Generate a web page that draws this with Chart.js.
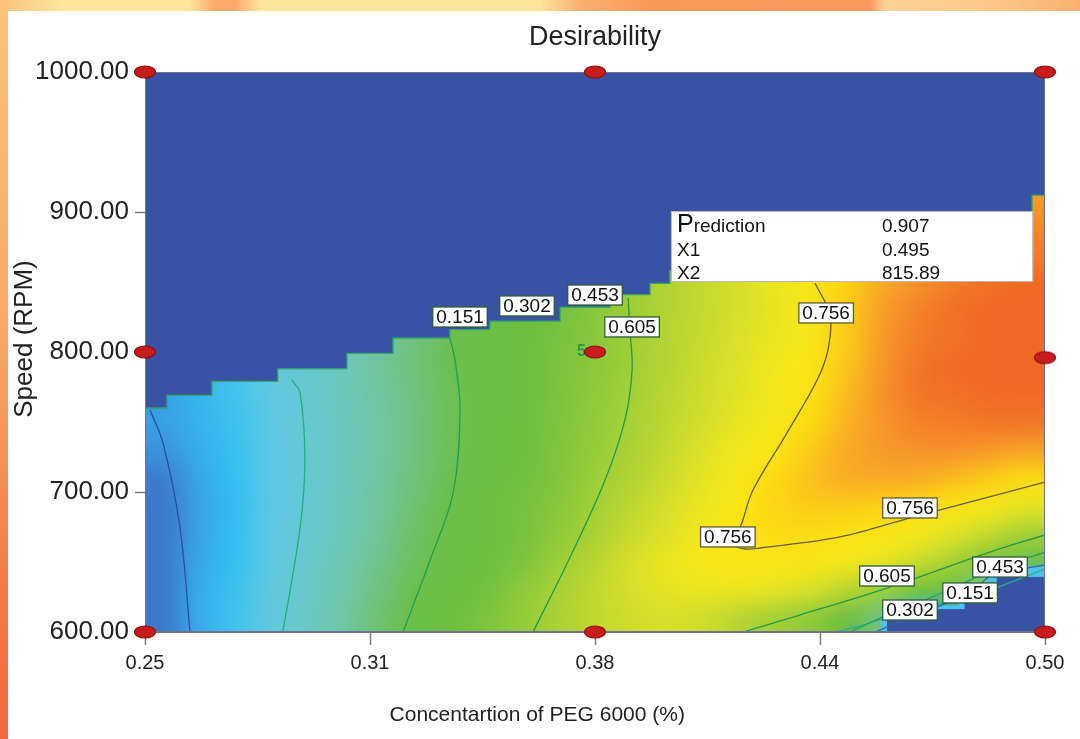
<!DOCTYPE html>
<html><head><meta charset="utf-8">
<script src="https://cdn.jsdelivr.net/npm/chart.js@4.4.1/dist/chart.umd.min.js"></script>
<style>
html,body{margin:0;padding:0;width:1080px;height:739px;overflow:hidden;background:#fff;}
#bgTop{position:absolute;left:0;top:0;width:1080px;height:11px;
 background:linear-gradient(to right,#f9c27c 0px,#fde39c 60px,#fde39c 190px,#fba868 215px,#fba868 235px,#fde49c 260px,#fde49c 540px,#f9b070 580px,#fa9858 650px,#fa9a5a 870px,#fdd294 885px,#fdc688 1000px,#fbb072 1080px);}
#bgLeft{position:absolute;left:0;top:0;width:8px;height:739px;background:linear-gradient(to bottom,#fbc27c 0%,#f8a864 45%,#f2804a 75%,#f0683e 100%);}
#wrap{position:absolute;left:0;top:0;width:1080px;height:739px;}
</style></head>
<body>
<div id="bgTop"></div><div id="bgLeft"></div>
<div id="wrap"><canvas id="c"></canvas></div>
<script>
// ---------- data ----------
const xTickValues = [0.25, 0.3125, 0.375, 0.4375, 0.5];
const xTickLabels = ['0.25', '0.31', '0.38', '0.44', '0.50'];
const yTickValues = [600, 700, 800, 900, 1000];
const yTickLabels = ['600.00', '700.00', '800.00', '900.00', '1000.00'];

// heat-map cell centres (X1 = PEG conc., X2 = speed)
const cellX = [0.255,0.265,0.275,0.285,0.295,0.305,0.315,0.325,0.335,0.345,0.355,0.365,0.375,0.385,0.395,0.405,0.415,0.425,0.435,0.445,0.455,0.465,0.475,0.485,0.495];
const cellY = [990,970,950,930,910,890,870,850,830,810,790,770,750,730,710,690,670,650,630,610];
const desirability = [
 [0,0,0,0,0,0,0,0,0,0,0,0,0,0,0,0,0,0,0,0,0,0,0,0,0],
 [0,0,0,0,0,0,0,0,0,0,0,0,0,0,0,0,0,0,0,0,0,0,0,0,0],
 [0,0,0,0,0,0,0,0,0,0,0,0,0,0,0,0,0,0,0,0,0,0,0,0,0],
 [0,0,0,0,0,0,0,0,0,0,0,0,0,0,0,0,0,0,0,0,0,0,0,0,0],
 [0,0,0,0,0,0,0,0,0,0,0,0,0,0,0,0,0,0,0,0,0,0,0.84,0.85,0.86],
 [0,0,0,0,0,0,0,0,0,0,0,0,0,0,0,0,0,0,0,0.79,0.83,0.85,0.87,0.88,0.88],
 [0,0,0,0,0,0,0,0,0,0,0,0,0,0,0,0,0.70,0.72,0.75,0.79,0.83,0.86,0.88,0.89,0.89],
 [0,0,0,0,0,0,0,0,0,0,0,0,0,0,0.63,0.655,0.68,0.71,0.745,0.79,0.84,0.87,0.89,0.90,0.905],
 [0,0,0,0,0,0,0,0,0,0.47,0.50,0.53,0.57,0.60,0.63,0.655,0.68,0.705,0.74,0.80,0.855,0.885,0.90,0.907,0.907],
 [0,0,0,0,0,0,0.38,0.41,0.45,0.48,0.51,0.54,0.57,0.605,0.635,0.66,0.685,0.71,0.74,0.80,0.86,0.89,0.90,0.907,0.907],
 [0,0,0,0.28,0.315,0.35,0.385,0.415,0.45,0.48,0.51,0.545,0.575,0.605,0.635,0.665,0.69,0.72,0.75,0.81,0.865,0.895,0.905,0.907,0.907],
 [0,0.19,0.23,0.27,0.31,0.345,0.38,0.41,0.445,0.48,0.51,0.545,0.58,0.61,0.64,0.67,0.695,0.725,0.76,0.82,0.87,0.895,0.90,0.905,0.905],
 [0.155,0.185,0.22,0.265,0.305,0.34,0.375,0.41,0.445,0.48,0.515,0.55,0.585,0.615,0.645,0.675,0.705,0.735,0.775,0.83,0.865,0.885,0.89,0.895,0.895],
 [0.14,0.175,0.215,0.26,0.305,0.34,0.375,0.41,0.445,0.485,0.52,0.555,0.59,0.62,0.655,0.69,0.72,0.75,0.80,0.84,0.86,0.87,0.87,0.86,0.85],
 [0.11,0.165,0.21,0.26,0.305,0.34,0.38,0.415,0.45,0.49,0.525,0.56,0.60,0.63,0.665,0.70,0.735,0.775,0.815,0.835,0.84,0.835,0.82,0.80,0.775],
 [0.10,0.16,0.205,0.26,0.305,0.345,0.385,0.42,0.46,0.50,0.535,0.57,0.61,0.645,0.68,0.71,0.745,0.785,0.80,0.80,0.79,0.775,0.755,0.73,0.70],
 [0.10,0.16,0.21,0.265,0.31,0.35,0.39,0.43,0.47,0.505,0.54,0.58,0.62,0.66,0.69,0.725,0.755,0.77,0.77,0.76,0.745,0.72,0.69,0.65,0.61],
 [0.10,0.165,0.21,0.27,0.32,0.36,0.40,0.44,0.48,0.515,0.55,0.60,0.64,0.68,0.71,0.735,0.745,0.745,0.74,0.72,0.70,0.66,0.61,0.55,0.45],
 [0.10,0.17,0.22,0.28,0.325,0.365,0.41,0.455,0.495,0.53,0.58,0.615,0.65,0.68,0.70,0.71,0.71,0.70,0.68,0.64,0.60,0.53,0.45,0.35,0.20],
 [0.10,0.17,0.225,0.28,0.33,0.375,0.42,0.46,0.51,0.55,0.59,0.62,0.65,0.67,0.68,0.67,0.64,0.61,0.58,0.52,0.40,0.20,0.15,0.15,0.15]
];

// zero-desirability region (upper) — stepped edge
const boundaryX = [0.25,0.2561,0.2686,0.2869,0.3061,0.3189,0.3347,0.3458,0.3653,0.3792,0.3903,0.3958,0.4208,0.4542,0.4875,0.4964,0.50];
const boundaryY = [760,769,779,788,799,810,816,822,832,841,849,858,870,885,900,912,912];
// zero-desirability region (lower right)
const lowZoneX = [0.4561,0.4667,0.4778,0.4867,0.50];
const lowZoneY = [608,616,624,639,639];
const lowFringeX = [0.4545,0.4650,0.4760,0.4840,0.50];
const lowFringeY = [611,619,628,647,647];

// contour lines
const c151X = [0.2625,0.2597,0.2550,0.2514];
const c151Y = [600,675,735,758.6];
const c302X = [0.2883,0.2931,0.2944,0.2931,0.2908];
const c302Y = [600,675,722.9,770.7,780];
const c453X = [0.3217,0.3292,0.3356,0.3375,0.3361,0.3347];
const c453Y = [600,651.4,699.3,758.6,794.3,810];
const c605X = [0.3578,0.3681,0.3778,0.3833,0.3853,0.3847,0.3842];
const c605Y = [600,653.6,708.6,751.4,787.1,815.7,838.6];
const c756X = [0.4361,0.4403,0.4397,0.4367,0.4283,0.4189,0.4161,0.4139,0.4167,0.4208,0.4431,0.4633,0.50];
const c756Y = [849.3,826.4,801.4,780,742.1,701.4,680,662.1,659.3,660,667.9,682.1,707.1];
const c605bX = [0.4161,0.4319,0.4561,0.4847,0.50];
const c605bY = [600,612.1,631.4,657.1,669.3];
const c453bX = [0.4458,0.4569,0.4681,0.4875,0.50];
const c453bY = [600,612.9,624.3,646.4,657];
const c302bX = [0.4417,0.4486,0.4625,0.4792,0.50];
const c302bY = [600,604.3,615.7,625,645];
const c151bX = [0.4528,0.4640,0.4792,0.4850,0.50];
const c151bY = [600,612,627.9,640,648];

// contour labels
const labelText = ['0.151','0.302','0.453','0.605','0.756','0.756','0.756','0.605','0.453','0.151','0.302'];
const labelX = [0.3375,0.3561,0.3750,0.3853,0.4392,0.4119,0.4625,0.4561,0.4875,0.4792,0.4625];
const labelY = [825,832.9,840.7,817.9,827.9,667.9,688.6,640,646.4,627.9,615.7];

// design points
const designX = [0.25,0.375,0.50,0.25,0.375,0.50,0.25,0.375,0.50];
const designY = [1000,1000,1000,800,800,796,600,600,600];

// prediction flag
const predNames = ['Prediction','X1','X2'];
const predValues = ['0.907','0.495','815.89'];

// ---------- colours ----------
const FONT = "'Liberation Sans', Arial, Helvetica, sans-serif";
const stops = [
 [0.00,'#3953a4'],[0.06,'#3b60b6'],[0.12,'#3c84d2'],[0.17,'#38aaea'],[0.21,'#34c0f0'],
 [0.26,'#5cc8e6'],[0.31,'#68c8d2'],[0.35,'#6cc8b8'],[0.39,'#70c498'],[0.43,'#6ec064'],
 [0.46,'#6abf48'],[0.52,'#6ebf40'],[0.56,'#82c53c'],[0.60,'#9cce38'],[0.63,'#b2d334'],
 [0.66,'#c8da2e'],[0.69,'#dee228'],[0.72,'#f2e61c'],[0.75,'#fae514'],[0.78,'#fcd812'],
 [0.81,'#fbc41c'],[0.84,'#f8aa26'],[0.87,'#f6922a'],[0.89,'#f37c28'],[0.91,'#f06424']
];
const hex = h => [parseInt(h.slice(1,3),16),parseInt(h.slice(3,5),16),parseInt(h.slice(5,7),16)];
function rgbFor(v){
  if (v <= stops[0][0]) return hex(stops[0][1]);
  for (let i=1;i<stops.length;i++){
    if (v <= stops[i][0]){
      const a=hex(stops[i-1][1]), b=hex(stops[i][1]);
      const t=(v-stops[i-1][0])/(stops[i][0]-stops[i-1][0]);
      return a.map((c,k)=>Math.round(c+(b[k]-c)*t));
    }
  }
  return hex(stops[stops.length-1][1]);
}
const pts = (xs, ys) => xs.map((x,i)=>({x, y: ys[i]}));

// cell grid rendered as a small bitmap, stretched over the cell extent given by the scales
const heatmapPlugin = {
  id: 'heatmap',
  beforeDatasetsDraw(chart){
    const {ctx, chartArea:a, scales:{x, y}} = chart;
    const nc = cellX.length, nr = cellY.length;
    const off = document.createElement('canvas'); off.width = nc; off.height = nr;
    const g = off.getContext('2d');
    const img = g.createImageData(nc, nr);
    for (let r = 0; r < nr; r++) for (let c = 0; c < nc; c++) {
      // cells in the zero zone are hidden by the zone fill; pad them with the
      // nearest visible cell below so the zone colour does not bleed when stretched
      let rr = r;
      while (desirability[rr][c] === 0 && rr < nr-1) rr++;
      const col = rgbFor(desirability[rr][c]);
      const k = (r*nc + c)*4;
      img.data[k]=col[0]; img.data[k+1]=col[1]; img.data[k+2]=col[2]; img.data[k+3]=255;
    }
    g.putImageData(img, 0, 0);
    const hw = (cellX[1]-cellX[0])/2, hh = (cellY[0]-cellY[1])/2;
    const l = x.getPixelForValue(cellX[0]-hw), rgt = x.getPixelForValue(cellX[nc-1]+hw);
    const t = y.getPixelForValue(cellY[0]+hh), b = y.getPixelForValue(cellY[nr-1]-hh);
    ctx.save();
    ctx.beginPath(); ctx.rect(a.left, a.top, a.width, a.height); ctx.clip();
    ctx.imageSmoothingEnabled = true; ctx.imageSmoothingQuality = 'high';
    ctx.drawImage(off, l, t, rgt-l, b-t);
    ctx.restore();
  }
};

const MARKER_INDEX = 0;
const overlayPlugin = {
  id: 'overlay',
  beforeDatasetDraw(chart, args){
    if (args.index !== MARKER_INDEX) return;
    const {ctx, chartArea:a, scales:{x, y}} = chart;
    ctx.save();
    // frame
    ctx.strokeStyle = '#6f7390'; ctx.lineWidth = 1;
    ctx.strokeRect(a.left+0.5, a.top+0.5, a.width-1, a.height-1);
    // contour labels
    ctx.font = '19px ' + FONT;
    ctx.textAlign = 'center'; ctx.textBaseline = 'middle';
    labelText.forEach((t, i) => {
      const px = x.getPixelForValue(labelX[i]), py = y.getPixelForValue(labelY[i]);
      const w = ctx.measureText(t).width + 7, h = 20;
      ctx.fillStyle = '#ffffff';
      ctx.fillRect(px-w/2, py-h/2, w, h);
      ctx.strokeStyle = t === '0.756' ? '#5f5a36' : '#2f5a3a';
      ctx.lineWidth = 1.3;
      ctx.strokeRect(px-w/2, py-h/2, w, h);
      ctx.fillStyle = '#111';
      ctx.fillText(t, px, py+1);
    });
    // centre-point replicate count
    ctx.font = 'bold 16px ' + FONT;
    ctx.fillStyle = '#2a9a50';
    ctx.textAlign = 'right';
    ctx.fillText('5', x.getPixelForValue(0.375)-9, y.getPixelForValue(800));
    // prediction flag
    const bl = x.getPixelForValue(0.3961), br = x.getPixelForValue(0.4967);
    const bt = y.getPixelForValue(900.7), bb = y.getPixelForValue(850);
    ctx.fillStyle = '#ffffff';
    ctx.fillRect(bl, bt, br-bl, bb-bt);
    ctx.strokeStyle = '#b8b8b8'; ctx.lineWidth = 1;
    ctx.strokeRect(bl+0.5, bt+0.5, br-bl-1, bb-bt-1);
    ctx.fillStyle = '#111';
    ctx.textAlign = 'left'; ctx.textBaseline = 'alphabetic';
    const lineY = [bt+21, bt+45, bt+68];
    predNames.forEach((n, i) => {
      if (n === 'Prediction') {
        ctx.font = '25px ' + FONT; ctx.fillText('P', bl+6, lineY[i]);
        const pw = ctx.measureText('P').width;
        ctx.font = '19px ' + FONT; ctx.fillText('rediction', bl+6+pw, lineY[i]);
      } else {
        ctx.font = '19px ' + FONT; ctx.fillText(n, bl+6, lineY[i]);
      }
      ctx.font = '19px ' + FONT;
      ctx.fillText(predValues[i], bl+211, lineY[i]);
    });
    ctx.restore();
  }
};

function ellipseStyle(){
  const c = document.createElement('canvas'); c.width = 24; c.height = 16;
  const g = c.getContext('2d');
  g.beginPath(); g.ellipse(12, 8, 10.5, 6, 0, 0, Math.PI*2);
  g.fillStyle = '#c81c1c'; g.fill();
  g.lineWidth = 1.2; g.strokeStyle = '#8a1212'; g.stroke();
  return c;
}

const contour = (label, xs, ys, color) => ({
  label, data: pts(xs, ys), borderColor: color, borderWidth: 1.3, pointRadius: 0,
  fill: false, tension: 0.35, order: 3
});

Chart.defaults.font.family = FONT;
new Chart(document.getElementById('c'), {
  type: 'line',
  data: {
    datasets: [
      { label: 'design points', data: pts(designX, designY), showLine: false,
        pointStyle: ellipseStyle(), pointRadius: 10, clip: false, order: 0 },
      { label: 'zero zone', data: pts(boundaryX, boundaryY), stepped: true, fill: 'end',
        backgroundColor: '#3953a4', borderColor: '#35a36a', borderWidth: 1.3, pointRadius: 0, order: 5 },
      { label: 'low fringe', data: pts(lowFringeX, lowFringeY), stepped: true, fill: 'start',
        backgroundColor: '#4cc3ea', borderColor: 'rgba(0,0,0,0)', borderWidth: 0, pointRadius: 0, order: 7 },
      { label: 'low zone', data: pts(lowZoneX, lowZoneY), stepped: true, fill: 'start',
        backgroundColor: '#3953a4', borderColor: '#3b58ad', borderWidth: 1, pointRadius: 0, order: 6 },
      contour('0.151', c151X, c151Y, '#2b4ea6'),
      contour('0.302', c302X, c302Y, '#22ae78'),
      contour('0.453', c453X, c453Y, '#1f9e50'),
      contour('0.605', c605X, c605Y, '#22984a'),
      contour('0.756', c756X, c756Y, '#655f3c'),
      contour('0.605b', c605bX, c605bY, '#22984a'),
      contour('0.453b', c453bX, c453bY, '#25a058'),
      contour('0.302b', c302bX, c302bY, '#2aae96'),
      contour('0.151b', c151bX, c151bY, '#2d62b2')
    ]
  },
  options: {
    responsive: true, maintainAspectRatio: false, animation: false,
    layout: { padding: { left: 0, right: 35, top: 0, bottom: 0 } },
    plugins: {
      legend: { display: false }, tooltip: { enabled: false },
      title: { display: true, fullSize: false, text: 'Desirability', color: '#222',
        font: { size: 27, weight: 'normal' }, padding: { top: 21, bottom: 18.6 } }
    },
    scales: {
      x: { type: 'linear', min: 0.25, max: 0.5,
        afterBuildTicks: s => { s.ticks = xTickValues.map(v => ({ value: v })); },
        afterFit: s => { s.height = 107; },
        ticks: { callback: (v, i) => xTickLabels[i], color: '#222', font: { size: 20 }, padding: 6, maxRotation: 0, autoSkip: false },
        grid: { display: true, drawOnChartArea: false, drawTicks: true, tickLength: 13, color: '#7a7a7a', tickWidth: 1.5 },
        border: { display: true, color: '#6f7390' },
        title: { display: true, text: 'Concentartion of PEG 6000 (%)\u2002\u2002\u2002\u2002\u2002\u2002\u2002\u2002\u2002\u2002\u2002', color: '#222', font: { size: 21 }, padding: { top: 0, bottom: 11 } }
      },
      y: { type: 'linear', min: 600, max: 1000,
        afterBuildTicks: s => { s.ticks = yTickValues.map(v => ({ value: v })); },
        afterFit: s => { s.width = 145; },
        ticks: { callback: (v, i) => yTickLabels[i], color: '#222', font: { size: 26 }, padding: 6 },
        grid: { display: true, drawOnChartArea: false, drawTicks: true, tickLength: 10, color: '#7a7a7a', tickWidth: 1.5 },
        border: { display: true, color: '#6f7390' },
        title: { display: true, text: '\u2002\u2002Speed (RPM)', color: '#222', font: { size: 26 }, padding: { top: 9, bottom: 0 } }
      }
    }
  },
  plugins: [heatmapPlugin, overlayPlugin]
});
</script>
</body></html>
